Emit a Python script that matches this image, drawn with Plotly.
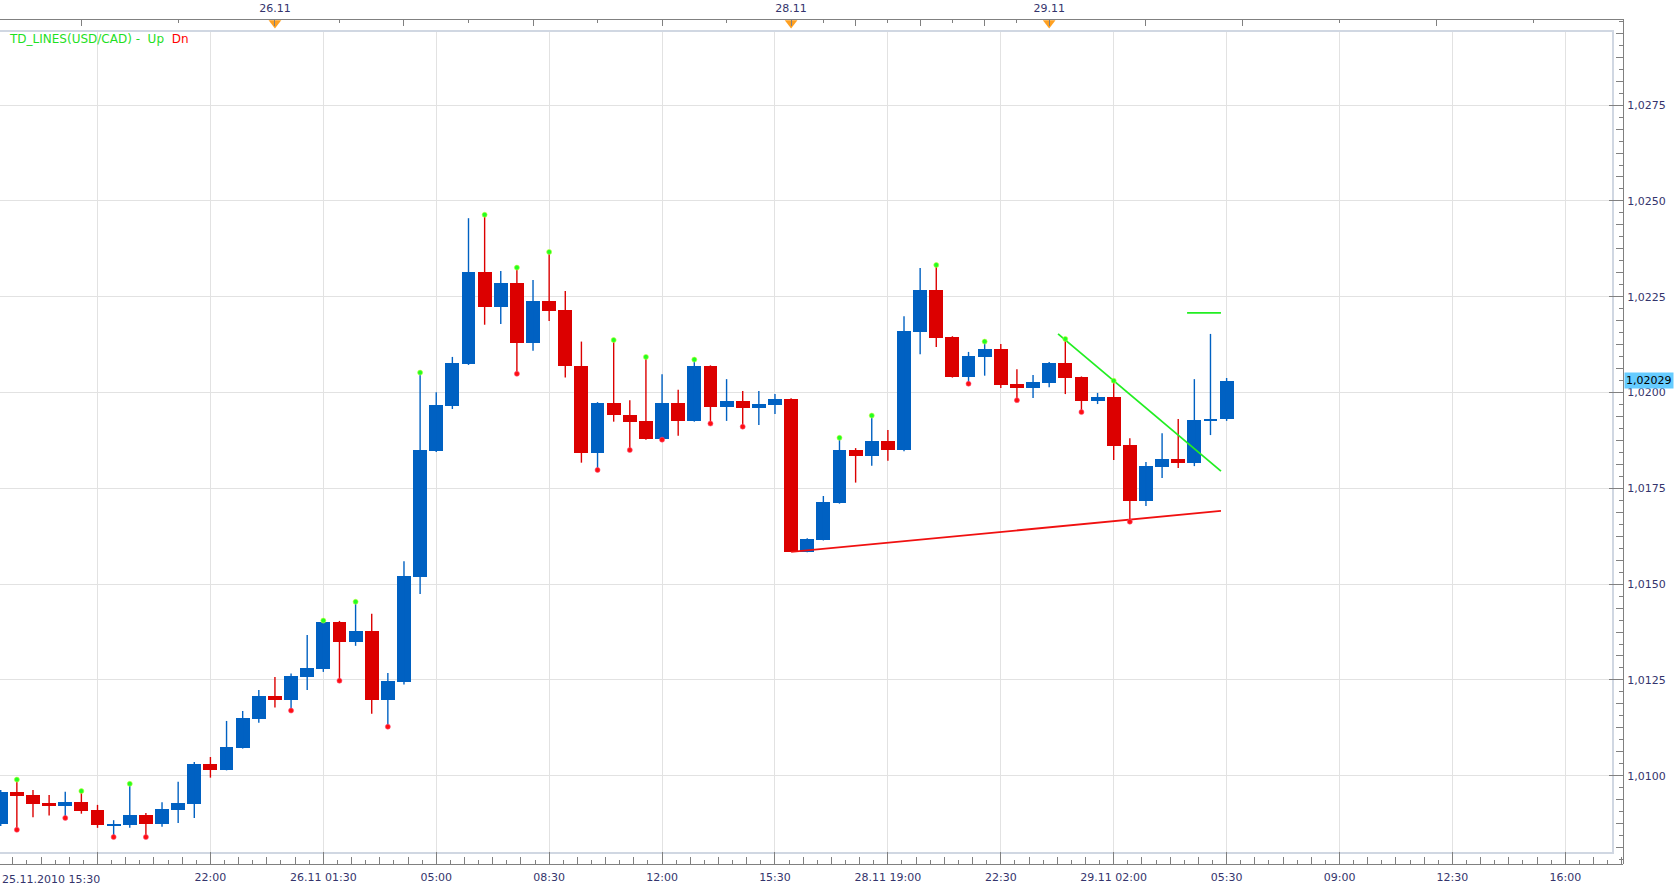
import plotly.graph_objects as go

# ---------------- data (30-minute USD/CAD candles) ----------------
opens = [1.00875, 1.00958, 1.00950, 1.00929, 1.00922, 1.00931, 1.00911, 1.00871, 1.00872, 1.00898,
         1.00875, 1.00911, 1.00927, 1.01031, 1.01016, 1.01073, 1.01149, 1.01208, 1.01198, 1.01258,
         1.01279, 1.01401, 1.01350, 1.01378, 1.01198, 1.01245, 1.01519, 1.01847, 1.01965, 1.02074,
         1.02315, 1.02223, 1.02286, 1.02129, 1.02239, 1.02215, 1.02070, 1.01843, 1.01973, 1.01942,
         1.01925, 1.01879, 1.01973, 1.01926, 1.02069, 1.01963, 1.01978, 1.01960, 1.01967, 1.01983,
         1.01585, 1.01616, 1.01712, 1.01850, 1.01835, 1.01873, 1.01850, 1.02158, 1.02267, 1.02145,
         1.02041, 1.02093, 1.02114, 1.02022, 1.02012, 1.02025, 1.02077, 1.02040, 1.01978, 1.01988,
         1.01863, 1.01717, 1.01806, 1.01827, 1.01816, 1.01926, 1.01931]
highs = [1.00963, 1.00990, 1.00963, 1.00950, 1.00958, 1.00960, 1.00924, 1.00884, 1.00979, 1.00903,
         1.00931, 1.00984, 1.01036, 1.01049, 1.01143, 1.01169, 1.01224, 1.01258, 1.01267, 1.01367,
         1.01405, 1.01404, 1.01454, 1.01423, 1.01268, 1.01560, 1.02052, 1.02001, 1.02093, 1.02455,
         1.02464, 1.02317, 1.02326, 1.02294, 1.02367, 1.02265, 1.02133, 1.01975, 1.02137, 1.01980,
         1.02093, 1.02048, 1.02007, 1.02086, 1.02071, 1.02035, 1.02004, 1.02004, 1.01996, 1.01985,
         1.01620, 1.01730, 1.01882, 1.01855, 1.01940, 1.01902, 1.02199, 1.02325, 1.02333, 1.02147,
         1.02106, 1.02133, 1.02127, 1.02061, 1.02046, 1.02080, 1.02140, 1.02042, 1.01999, 1.02031,
         1.01881, 1.01819, 1.01894, 1.01931, 1.02035, 1.02153, 1.02038]
lows = [1.00869, 1.00859, 1.00892, 1.00896, 1.00890, 1.00901, 1.00864, 1.00840, 1.00864, 1.00840,
        1.00867, 1.00877, 1.00890, 1.00995, 1.01014, 1.01071, 1.01138, 1.01178, 1.01170, 1.01224,
        1.01271, 1.01248, 1.01339, 1.01162, 1.01128, 1.01238, 1.01474, 1.01845, 1.01957, 1.02072,
        1.02177, 1.02179, 1.02049, 1.02109, 1.02187, 1.02039, 1.01817, 1.01798, 1.01924, 1.01850,
        1.01877, 1.01877, 1.01887, 1.01924, 1.01919, 1.01926, 1.01911, 1.01915, 1.01944, 1.01584,
        1.01583, 1.01614, 1.01710, 1.01765, 1.01809, 1.01822, 1.01847, 1.02100, 1.02119, 1.02039,
        1.02023, 1.02044, 1.02012, 1.01980, 1.01986, 1.02014, 1.01996, 1.01949, 1.01970, 1.01824,
        1.01663, 1.01704, 1.01777, 1.01803, 1.01808, 1.01889, 1.01926]
closes = [1.00958, 1.00948, 1.00927, 1.00922, 1.00931, 1.00909, 1.00872, 1.00874, 1.00898, 1.00875,
          1.00913, 1.00929, 1.01031, 1.01016, 1.01075, 1.01151, 1.01208, 1.01198, 1.01260, 1.01281,
          1.01401, 1.01350, 1.01378, 1.01198, 1.01247, 1.01521, 1.01850, 1.01967, 1.02077, 1.02315,
          1.02223, 1.02286, 1.02129, 1.02239, 1.02214, 1.02070, 1.01843, 1.01973, 1.01942, 1.01924,
          1.01879, 1.01973, 1.01926, 1.02069, 1.01963, 1.01978, 1.01960, 1.01970, 1.01983, 1.01585,
          1.01618, 1.01714, 1.01850, 1.01835, 1.01873, 1.01850, 1.02160, 1.02267, 1.02142, 1.02041,
          1.02095, 1.02114, 1.02020, 1.02012, 1.02027, 1.02077, 1.02038, 1.01978, 1.01988, 1.01860,
          1.01717, 1.01808, 1.01827, 1.01816, 1.01928, 1.01931, 1.02029]

x_grid_idx = [6, 13, 20, 27, 34, 41, 48, 55, 62, 69, 76, 83, 90, 97]
x_grid_labels = ['25.11.2010 15:30', '22:00', '26.11 01:30', '05:00', '08:30', '12:00', '15:30',
                 '28.11 19:00', '22:30', '29.11 02:00', '05:30', '09:00', '12:30', '16:00']
day_idx = [17, 49, 65]
day_labels = ['26.11', '28.11', '29.11']
top_long_ticks = [5, 25, 33, 41, 53, 57, 61, 71, 77, 89]
top_short_ticks = [11, 21, 29, 37, 45, 51, 55, 59, 63, 83, 95]
y_ticks = [1.0100, 1.0125, 1.0150, 1.0175, 1.0200, 1.0225, 1.0250, 1.0275]
y_tick_labels = ['1,0100', '1,0125', '1,0150', '1,0175', '1,0200', '1,0225', '1,0250', '1,0275']

green_dot_idx = [1, 5, 8, 20, 22, 26, 30, 32, 34, 38, 40, 43, 52, 54, 58, 61, 66, 69]
red_dot_idx = [1, 4, 7, 9, 18, 21, 24, 32, 37, 39, 41, 44, 46, 60, 63, 67, 70]

td_dn_x = [49.0, 75.65]
td_dn_y = [1.01584, 1.01691]
td_up_x = [65.55, 75.65]
td_up_y = [1.02153, 1.01795]
td_target_x = [73.55, 75.65]
td_target_y = [1.02208, 1.02208]
last_price = 1.02029
last_price_label = '1,02029'

# ---------------- geometry / styles ----------------
W, H = 1680, 889
PLOT_R, AX_R = 1612, 1623
AX_T, PLOT_T, PLOT_B, AX_B = 19, 32, 852, 864
BAR_PX = 16.13
X0 = -0.045
Y_PX = 38320.0
Y_BOT = 1.00801

AREA_W = AX_R
AREA_H = AX_B - AX_T
x_main_rng = [X0, X0 + PLOT_R / BAR_PX]
x_full_rng = [X0, X0 + AX_R / BAR_PX]
y_main_rng = [Y_BOT, Y_BOT + (PLOT_B - PLOT_T) / Y_PX]
y_full_rng = [Y_BOT - (AX_B - PLOT_B) / Y_PX, Y_BOT + (PLOT_B - AX_T) / Y_PX]

BLUE = '#0061c2'
RED = '#dc0000'
AXC = '#808080'
TXT = '#34346c'
FONT = 'DejaVu Sans'

idx = list(range(len(opens)))
up = [c >= o for o, c in zip(opens, closes)]
body_base = [min(o, c) for o, c in zip(opens, closes)]
body_h = [max(abs(c - o), 0.00003) for o, c in zip(opens, closes)]
body_col = [BLUE if u else RED for u in up]

fig = go.Figure()


def wick_trace(sel, color):
    xs, ys = [], []
    for i in idx:
        if up[i] == sel:
            xs += [i, i, None]
            ys += [lows[i], highs[i], None]
    return go.Scatter(x=xs, y=ys, mode='lines', line=dict(color=color, width=1.4),
                      hoverinfo='skip', showlegend=False)


fig.add_trace(go.Bar(x=idx, y=body_h, base=body_base, width=0.86,
                     marker=dict(color=body_col, line=dict(width=0)),
                     showlegend=False, hoverinfo='skip'))
fig.add_trace(wick_trace(True, BLUE))
fig.add_trace(wick_trace(False, RED))

fig.add_trace(go.Scatter(x=td_dn_x, y=td_dn_y, mode='lines', line=dict(color='#f01010', width=1.8),
                         showlegend=False, hoverinfo='skip'))
fig.add_trace(go.Scatter(x=td_up_x, y=td_up_y, mode='lines', line=dict(color='#22ee22', width=1.8),
                         showlegend=False, hoverinfo='skip'))
fig.add_trace(go.Scatter(x=td_target_x, y=td_target_y, mode='lines', line=dict(color='#22ee22', width=1.8),
                         showlegend=False, hoverinfo='skip'))

fig.add_trace(go.Scatter(x=green_dot_idx, y=[highs[i] for i in green_dot_idx], mode='markers',
                         marker=dict(color='#22ff22', size=5, line=dict(width=0.6, color='#c8ff40')),
                         showlegend=False, hoverinfo='skip'))
fig.add_trace(go.Scatter(x=red_dot_idx, y=[lows[i] for i in red_dot_idx], mode='markers',
                         marker=dict(color='#ff1010', size=5, line=dict(width=0.6, color='#ff5080')),
                         showlegend=False, hoverinfo='skip'))

# day markers on the top axis (y3 is a pixel-like helper axis)
fig.add_trace(go.Scatter(x=day_idx, y=[AX_B - 23] * len(day_idx), xaxis='x3', yaxis='y3', mode='markers',
                         marker=dict(symbol='triangle-down', size=11, color='#ffa020',
                                     line=dict(width=0)),
                         showlegend=False, hoverinfo='skip'))
# helper traces so that the decoration axes exist
fig.add_trace(go.Scatter(x=[X0], y=[y_full_rng[0]], xaxis='x2', yaxis='y2', mode='markers',
                         marker=dict(opacity=0), showlegend=False, hoverinfo='skip'))
fig.add_trace(go.Scatter(x=[X0], y=[y_full_rng[0]], xaxis='x4', yaxis='y4', mode='markers',
                         marker=dict(opacity=0), showlegend=False, hoverinfo='skip'))
fig.add_trace(go.Scatter(x=[X0], y=[0], xaxis='x5', yaxis='y3', mode='markers',
                         marker=dict(opacity=0), showlegend=False, hoverinfo='skip'))

tickfont = dict(family=FONT, size=11, color=TXT)
xdom_main = [0, PLOT_R / AREA_W]
ydom_main = [(AX_B - PLOT_B) / AREA_H, (AX_B - PLOT_T) / AREA_H]
BORDER = '#d0d7e2'

fig.update_layout(
    width=W, height=H,
    margin=dict(l=0, r=W - AX_R, t=AX_T, b=H - AX_B, pad=0),
    paper_bgcolor='white', plot_bgcolor='rgba(0,0,0,0)',
    bargap=0, barmode='overlay',
    showlegend=False,
    xaxis=dict(domain=xdom_main, range=x_main_rng, anchor='y', tickvals=x_grid_idx,
               showticklabels=False, ticks='', showgrid=True, gridcolor='#e2e2e2', gridwidth=1,
               zeroline=False, showline=True, linecolor=BORDER, linewidth=2, mirror=True, fixedrange=True),
    yaxis=dict(domain=ydom_main, range=y_main_rng, anchor='x', tickvals=y_ticks,
               showticklabels=False, ticks='', showgrid=True, gridcolor='#e2e2e2', gridwidth=1,
               zeroline=False, showline=True, linecolor=BORDER, linewidth=2, mirror=True, fixedrange=True),
    # bottom axis
    xaxis2=dict(domain=[0, 1], range=x_full_rng, anchor='free', position=0, side='bottom',
                tickvals=x_grid_idx, ticktext=[''] + x_grid_labels[1:], ticks='inside', ticklen=12,
                tickcolor=AXC, tickwidth=1, tickfont=tickfont, showgrid=False, zeroline=False,
                showline=True, linecolor=AXC, linewidth=1, ticklabelstandoff=3,
                minor=dict(tick0=6, dtick=7 / 8, ticks='inside', ticklen=4, tickcolor=AXC, showgrid=False)),
    xaxis4=dict(domain=[0, 1], range=x_full_rng, anchor='free', position=0, side='bottom',
                tick0=6, dtick=7 / 4, ticks='inside', ticklen=7, tickcolor=AXC, showticklabels=False,
                showgrid=False, zeroline=False, showline=False),
    # top axis
    xaxis3=dict(domain=[0, 1], range=x_full_rng, anchor='free', position=1, side='top',
                tickvals=day_idx + top_long_ticks, ticktext=day_labels + [''] * len(top_long_ticks),
                ticks='inside', ticklen=6, tickcolor=AXC, tickfont=tickfont, showgrid=False,
                zeroline=False, showline=True, linecolor=AXC, linewidth=1, ticklabelstandoff=3),
    xaxis5=dict(domain=[0, 1], range=x_full_rng, anchor='free', position=1, side='top',
                tickvals=top_short_ticks, ticks='inside', ticklen=3, tickcolor=AXC,
                showticklabels=False, showgrid=False, zeroline=False, showline=False),
    # right axis
    yaxis2=dict(domain=[0, 1], range=y_full_rng, anchor='free', position=1, side='right',
                tickvals=y_ticks, ticktext=y_tick_labels, ticks='inside', ticklen=14, tickcolor=AXC,
                tickfont=tickfont, showgrid=False, zeroline=False, showline=True, linecolor=AXC, linewidth=1,
                ticklabelstandoff=1,
                minor=dict(tick0=1.0100, dtick=0.0003125, ticks='inside', ticklen=4, tickcolor=AXC,
                           showgrid=False)),
    yaxis4=dict(domain=[0, 1], range=y_full_rng, anchor='free', position=1, side='right',
                tick0=1.0100, dtick=0.000625, ticks='inside', ticklen=7, tickcolor=AXC,
                showticklabels=False, showgrid=False, zeroline=False, showline=False),
    yaxis3=dict(domain=[0, 1], range=[0, AREA_H], anchor='free', position=0, visible=False),
)

fig.add_annotation(xref='paper', yref='paper', x=0, y=0, xanchor='left', yanchor='top', yshift=-7,
                   text=x_grid_labels[0], showarrow=False, font=tickfont)
fig.add_annotation(xref='paper', yref='paper', x=6.5 / AREA_W, y=(AX_B - 39) / AREA_H,
                   xanchor='left', yanchor='middle', showarrow=False,
                   text='<span style="color:#1fe01f">TD_LINES(USD/CAD)&nbsp;-&nbsp;&nbsp;Up</span>'
                        '&nbsp;&nbsp;<span style="color:#ff0000">Dn</span>',
                   font=dict(family=FONT, size=12, color='#1fe01f'))
fig.add_annotation(xref='paper', yref='y2', x=1, y=last_price, xanchor='left', yanchor='middle',
                   xshift=1, yshift=1, text=last_price_label, showarrow=False, bgcolor='#66ccff',
                   borderpad=1, font=dict(family=FONT, size=11, color='#000000'))

fig.write_html('out.html', config={'displayModeBar': False})
